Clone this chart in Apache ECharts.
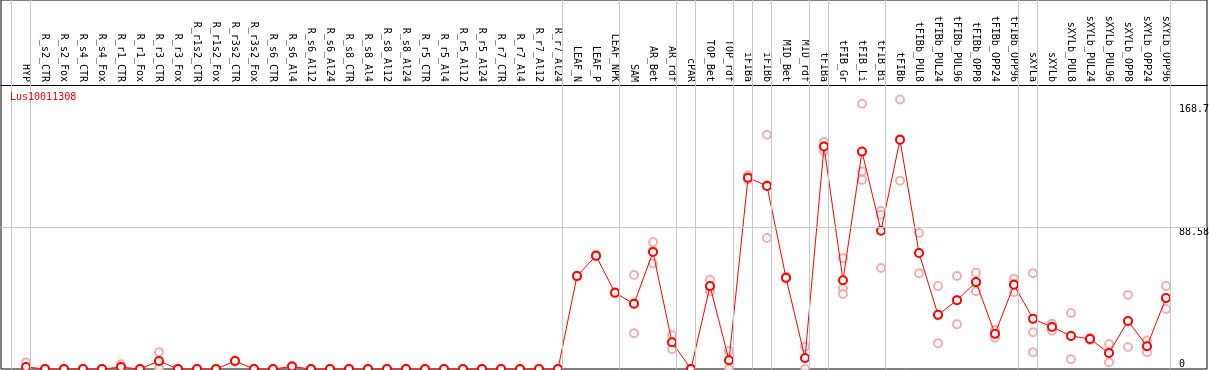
<!DOCTYPE html>
<html>
<head>
<meta charset="utf-8">
<script src="https://cdn.jsdelivr.net/npm/echarts@6/dist/echarts.min.js"></script>
<style>
  html, body { margin: 0; padding: 0; background: #fff; }
  #chart { width: 1209px; height: 370px; }
</style>
</head>
<body>
<div id="chart"></div>
<script>
var geneName = "Lus10011308";

var samples = [
  "HYP",
  "R_s2_CTR", "R_s2_Fox", "R_s4_CTR", "R_s4_Fox", "R_r1_CTR", "R_r1_Fox", "R_r3_CTR", "R_r3_Fox",
  "R_r1s2_CTR", "R_r1s2_Fox", "R_r3s2_CTR", "R_r3s2_Fox",
  "R_s6_CTR", "R_s6_Al4", "R_s6_Al12", "R_s6_Al24", "R_s8_CTR", "R_s8_Al4", "R_s8_Al12", "R_s8_Al24",
  "R_r5_CTR", "R_r5_Al4", "R_r5_Al12", "R_r5_Al24", "R_r7_CTR", "R_r7_Al4", "R_r7_Al12", "R_r7_Al24",
  "LEAF_N", "LEAF_P", "LEAF_NPK", "SAM", "AR_Bet", "AR_rdf", "cPAR", "TOP_Bet", "TOP_rdf",
  "iFIBa", "iFIBb", "MID_Bet", "MID_rdf", "tFIBa", "tFIB_Gr", "tFIB_Li", "tFIB_Bi",
  "tFIBb", "tFIBb_PUL8", "tFIBb_PUL24", "tFIBb_PUL96", "tFIBb_OPP8", "tFIBb_OPP24", "tFIBb_OPP96",
  "sXYLa", "sXYLb", "sXYLb_PUL8", "sXYLb_PUL24", "sXYLb_PUL96", "sXYLb_OPP8", "sXYLb_OPP24", "sXYLb_OPP96"
];

// mean expression (dark red line)
var meanValues = [
  1.3,
  0, 0, 0, 0, 1.2, 0, 5.0, 0,
  0, 0, 5.0, 0,
  0, 1.5, 0, 0, 0, 0, 0, 0,
  0, 0, 0, 0, 0, 0, 0, 0,
  58.2, 70.9, 47.7, 40.8, 73.2, 16.7, 0, 51.9, 5.5,
  119.8, 114.6, 57.1, 6.9, 139.3, 55.6, 136.1, 86.6,
  143.5, 72.6, 33.9, 43.1, 54.4, 22.0, 52.7,
  31.4, 26.3, 20.7, 18.8, 10.0, 30.1, 14.2, 44.5
];

// replicates (pink circles)
var rep1 = [
  4.0,
  0, 0, 0, 0, 3.0, 0, 10.5, 0,
  0, 0, 5.5, 0,
  0, 2.0, 0, 0, 0, 0, 0, 0,
  0, 0, 0, 0, 0, 0, 0, 0,
  58.5, 71.5, 48.0, 58.8, 79.5, 21.3, 0, 55.8, 11.3,
  121.3, 146.6, 57.8, 14.0, 142.2, 69.4, 166.1, 98.9,
  168.7, 85.1, 51.9, 58.2, 60.2, 24.5, 56.5,
  60.0, 28.4, 35.1, 19.5, 15.7, 46.4, 17.8, 51.9
];
var rep2 = [
  0,
  0, 0, 0, 0, 0.5, 0, 4.2, 0,
  0, 0, 4.8, 0,
  0, 1.5, 0, 0, 0, 0, 0, 0,
  0, 0, 0, 0, 0, 0, 0, 0,
  58.0, 70.8, 47.6, 41.2, 74.0, 16.4, 0, 51.4, 5.2,
  119.5, 115.2, 56.8, 6.7, 139.4, 50.6, 123.6, 96.6,
  144.0, 72.7, 33.7, 43.1, 54.3, 21.9, 53.5,
  23.0, 26.5, 20.9, 18.8, 10.1, 30.1, 14.3, 44.1
];
var rep3 = [
  0,
  0, 0, 0, 0, 0, 0, 0.3, 0,
  0, 0, 4.7, 0,
  0, 1.0, 0, 0, 0, 0, 0, 0,
  0, 0, 0, 0, 0, 0, 0, 0,
  58.1, 70.4, 47.5, 22.4, 66.1, 12.4, 0, 48.5, 0,
  118.6, 82.0, 56.7, 0, 136.3, 46.9, 118.4, 63.2,
  117.8, 60.0, 16.1, 28.0, 48.7, 19.6, 48.1,
  10.5, 24.0, 6.1, 18.1, 4.2, 13.8, 10.5, 37.5
];

// last sample index of each tissue group (-1 = start)
var groupEnds = [-1, 0, 28, 31, 34, 35, 37, 38, 39, 41, 42, 45, 52, 53, 60];
var yTicks = [0, 88.58, 168.7];
var midLine = 88.58;

function init_echart_expr(container) {
  var chartDom = document.getElementById(container);
  var myChart = echarts.init(chartDom);
  var mono = "DejaVu Sans Mono";

  var idx = samples.map(function (s, i) { return i; });
  var meanData = meanValues.map(function (v, i) { return [i, v]; });
  var repData = [];
  [rep1, rep2, rep3].forEach(function (arr) {
    arr.forEach(function (v, i) { repData.push([i, v]); });
  });

  var sepLines = groupEnds.map(function (e) { return { xAxis: e + 0.237 }; });
  sepLines.push({ yAxis: midLine });

  var option = {
    animation: false,
    title: {
      text: geneName,
      left: 10,
      top: 92,
      padding: 0,
      textStyle: { color: "#ff0000", fontSize: 10, fontWeight: "normal", fontFamily: mono }
    },
    grid: {
      left: 1,
      right: 2,
      top: 0,
      bottom: 1,
      show: true,
      borderColor: "#000",
      borderWidth: 1,
      outerBoundsMode: "none"
    },
    xAxis: {
      type: "value",
      position: "top",
      offset: -85,
      min: -25 / 19,
      max: 1181 / 19,
      axisLine: { show: true, onZero: false, lineStyle: { color: "#000", width: 1 } },
      axisTick: { show: false },
      splitLine: { show: false },
      axisLabel: {
        customValues: idx,
        rotate: 90,
        margin: 3,
        color: "#000",
        fontSize: 10,
        fontFamily: mono,
        hideOverlap: false,
        formatter: function (v) { return samples[v]; }
      }
    },
    yAxis: {
      type: "value",
      position: "right",
      min: 0,
      max: 231,
      axisLine: { show: false },
      axisTick: { show: false },
      splitLine: { show: false },
      axisLabel: {
        customValues: yTicks,
        inside: true,
        align: "left",
        margin: 28,
        verticalAlign: "top",
        verticalAlignMinLabel: "bottom",
        color: "#000",
        fontSize: 10,
        fontFamily: mono,
        formatter: function (v) {
          // top label sits a little lower in the original
          return v === yTicks[yTicks.length - 1] ? "{hi|" + v + "}" : String(v);
        },
        rich: {
          hi: { padding: [5, 0, 0, 0], color: "#000", fontSize: 10, fontFamily: mono }
        }
      }
    },
    series: [
      {
        type: "line",
        data: [],
        z: 1,
        silent: true,
        markLine: {
          silent: true,
          symbol: "none",
          label: { show: false },
          lineStyle: { color: "#c8c8c8", width: 1, type: "solid" },
          data: sepLines
        }
      },
      {
        type: "scatter",
        data: repData,
        z: 2,
        symbol: "emptyCircle",
        symbolSize: 8,
        itemStyle: { color: "#f09a9a", borderColor: "#f09a9a", borderWidth: 1.3 }
      },
      {
        type: "line",
        data: meanData,
        z: 3,
        symbol: "emptyCircle",
        symbolSize: 8,
        lineStyle: { color: "#ff0000", width: 1 },
        itemStyle: { color: "#ff0000", borderColor: "#ee0000", borderWidth: 1.6 }
      }
    ]
  };

  window.addEventListener("resize", function () {
    myChart.resize();
  });
  myChart.setOption(option);
}

init_echart_expr("chart");
</script>
</body>
</html>
